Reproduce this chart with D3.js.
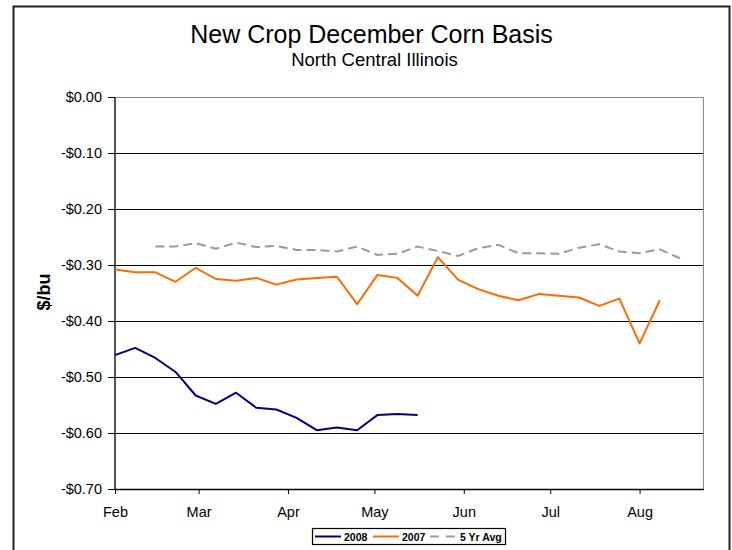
<!DOCTYPE html>
<html><head><meta charset="utf-8">
<script src="https://cdn.jsdelivr.net/npm/d3@7"></script>
<style>body{margin:0;background:#fff;}svg{display:block;font-family:"Liberation Sans",Arial,sans-serif;}</style>
</head><body>
<svg id="c" width="732" height="550"></svg>
<script>
const weekDates = ["2008-02-01","2008-02-08","2008-02-15","2008-02-22","2008-02-29","2008-03-07","2008-03-14","2008-03-21","2008-03-28","2008-04-04","2008-04-11","2008-04-18","2008-04-25","2008-05-02","2008-05-09","2008-05-16","2008-05-23","2008-05-30","2008-06-06","2008-06-13","2008-06-20","2008-06-27","2008-07-04","2008-07-11","2008-07-18","2008-07-25","2008-08-01","2008-08-08","2008-08-15"];
const basis2008 = [-0.461,-0.448,-0.466,-0.491,-0.533,-0.548,-0.528,-0.555,-0.558,-0.573,-0.595,-0.590,-0.595,-0.568,-0.566,-0.568];
const basis2007 = [-0.308,-0.313,-0.313,-0.330,-0.305,-0.325,-0.328,-0.323,-0.335,-0.326,-0.323,-0.321,-0.370,-0.318,-0.323,-0.355,-0.286,-0.326,-0.343,-0.355,-0.363,-0.352,-0.355,-0.358,-0.373,-0.360,-0.440,-0.363];
const avg5yr = [null,null,-0.267,-0.267,-0.261,-0.271,-0.260,-0.268,-0.266,-0.273,-0.273,-0.276,-0.267,-0.282,-0.280,-0.267,-0.275,-0.284,-0.270,-0.264,-0.279,-0.279,-0.280,-0.269,-0.263,-0.276,-0.279,-0.272,-0.288];
const monthTicks = ["2008-02-01","2008-03-01","2008-04-01","2008-05-01","2008-06-01","2008-07-01","2008-08-01"];
const monthLabels = ["Feb","Mar","Apr","May","Jun","Jul","Aug"];
const yTicks = [0,-0.1,-0.2,-0.3,-0.4,-0.5,-0.6,-0.7];
const xDomain = ["2008-02-01","2008-08-23"];
const yDomain = [-0.7, 0];
const seriesNames = ["2008","2007","5 Yr Avg"];

const parse = s => { const [y,m,d] = s.split("-").map(Number); return new Date(Date.UTC(y,m-1,d)); };
const svg = d3.select("#c");
const FF = "Liberation Sans, Arial, sans-serif";
const L = 115, R = 703, T = 97, B = 489;
const x = d3.scaleUtc().domain(xDomain.map(parse)).range([L, R]);
const y = d3.scaleLinear().domain(yDomain).range([B, T]);
const fmt = v => (v < -1e-9 ? "-$" : "$") + Math.abs(v).toFixed(2);

// outer frame
svg.append("rect").attr("x",13.5).attr("y",6.5).attr("width",716).attr("height",560)
  .attr("fill","none").attr("stroke","#222").attr("stroke-width",2);

// titles
svg.append("text").attr("x",371.5).attr("y",43).attr("text-anchor","middle")
  .attr("font-size",25).attr("fill","#000").text("New Crop December Corn Basis");
svg.append("text").attr("x",374.5).attr("y",66).attr("text-anchor","middle")
  .attr("font-size",18.5).attr("fill","#000").text("North Central Illinois");

// plot border (top/right)
svg.append("path").attr("d",`M${L},${T+0.5}H${R+0.5}V${B}`).attr("fill","none")
  .attr("stroke","#8a8a8a").attr("stroke-width",1);

// gridlines
svg.append("g").selectAll("line").data(yTicks.filter(v => v < 0 && v > -0.7)).join("line")
  .attr("x1",L).attr("x2",R).attr("y1",d => Math.round(y(d))+0.5).attr("y2",d => Math.round(y(d))+0.5)
  .attr("stroke","#000").attr("stroke-width",1);

// y axis
const yAxis = svg.append("g").attr("transform",`translate(${L},0)`)
  .call(d3.axisLeft(y).tickValues(yTicks).tickFormat(fmt).tickSize(7).tickPadding(6));
yAxis.select(".domain").attr("stroke","#555").attr("stroke-width",2).attr("d",`M0,${T}V${B}`);
yAxis.selectAll(".tick line").attr("stroke","#000");
yAxis.selectAll(".tick text").attr("font-size",14.5).attr("fill","#000").attr("font-family",FF);

// x axis
const xAxis = svg.append("g").attr("transform",`translate(0,${B})`)
  .call(d3.axisBottom(x).tickValues(monthTicks.map(parse)).tickFormat((d,i) => monthLabels[i]).tickSize(5).tickPadding(8));
xAxis.select(".domain").attr("stroke","#000").attr("stroke-width",1.5).attr("d",`M${L},0.5H${R+1}`);
xAxis.selectAll(".tick line").attr("stroke","#000");
xAxis.selectAll(".tick text").attr("font-size",14.5).attr("fill","#000").attr("font-family",FF)
  .attr("dy",null).attr("y",28);

// y label
svg.append("text").attr("transform","translate(49.5,292) rotate(-90)").attr("text-anchor","middle")
  .attr("font-size",18).attr("font-weight","bold").attr("fill","#000").text("$/bu");

// lines
const line = d3.line().defined(d => d[1] != null).x(d => x(parse(d[0]))).y(d => y(d[1]));
const mk = arr => arr.map((v,i) => [weekDates[i], v]);
svg.append("path").attr("d", line(mk(avg5yr))).attr("fill","none").attr("stroke","#9a9a9a")
  .attr("stroke-width",2).attr("stroke-dasharray","9,5");
svg.append("path").attr("d", line(mk(basis2007))).attr("fill","none").attr("stroke","#ff6a00")
  .attr("stroke-width",2).attr("stroke-linejoin","round");
svg.append("path").attr("d", line(mk(basis2008))).attr("fill","none").attr("stroke","#000080")
  .attr("stroke-width",2).attr("stroke-linejoin","round");

// legend
const lg = svg.append("g");
lg.append("rect").attr("x",312.5).attr("y",528.5).attr("width",193).attr("height",16)
  .attr("fill","#fff").attr("stroke","#000").attr("stroke-width",1.2);
const items = [
  {name: seriesNames[0], color:"#000080", dash:null, x1:315, x2:341, tx:344},
  {name: seriesNames[1], color:"#ff6a00", dash:null, x1:373, x2:399, tx:402},
  {name: seriesNames[2], color:"#9a9a9a", dash:"9,7", x1:430, x2:457, tx:460}
];
items.forEach(it => {
  lg.append("line").attr("x1",it.x1).attr("x2",it.x2).attr("y1",536.5).attr("y2",536.5)
    .attr("stroke",it.color).attr("stroke-width",2).attr("stroke-dasharray",it.dash);
  lg.append("text").attr("x",it.tx).attr("y",540.5).attr("font-size",10.5).attr("font-weight","bold")
    .attr("fill","#000").attr("font-family",FF).text(it.name);
});
</script>
</body></html>
